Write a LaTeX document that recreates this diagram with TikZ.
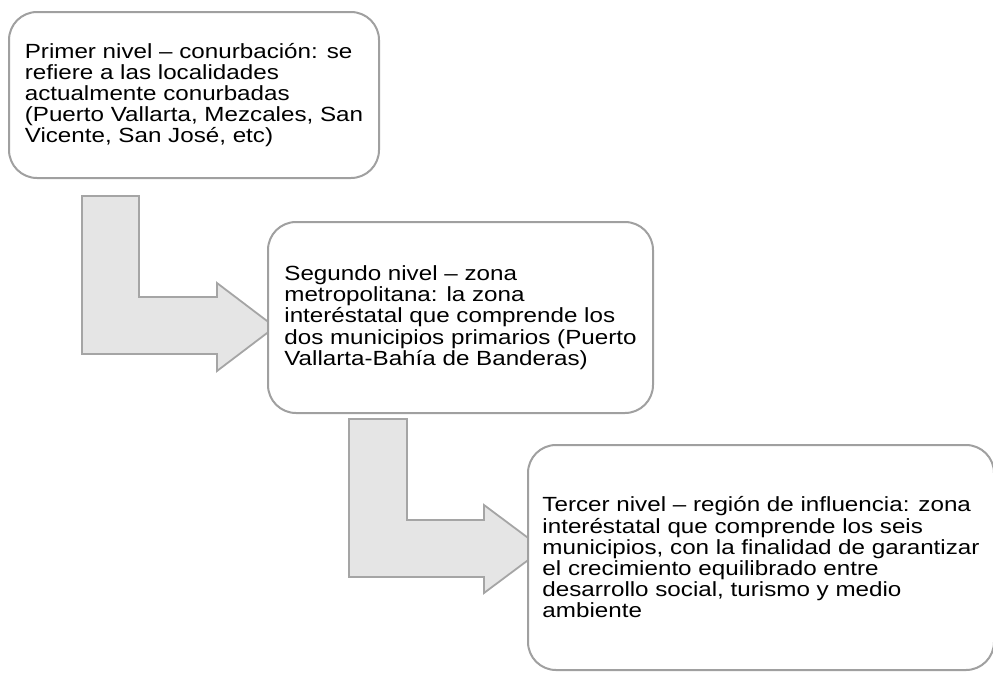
\documentclass[tikz,border=0pt]{standalone}
\usepackage{fontspec}
\setmainfont{Liberation Sans}[FakeStretch=1.18]
\definecolor{boxline}{RGB}{160,160,160}
\definecolor{arrfill}{RGB}{229,229,229}
\definecolor{arrline}{RGB}{165,165,165}
\newcommand{\levelfont}{\fontsize{20.5}{21.2}\selectfont\lineskiplimit=-100pt\relax\lineskip=0pt\relax}
\tikzset{
  levelbox/.style={draw=boxline, line width=2pt, fill=white, rounded corners=28pt,
    align=left, inner sep=0pt, font=\levelfont},
  bentarrow/.style={draw=arrline, line width=1.8pt, fill=arrfill, line join=miter}
}
\begin{document}
\begin{tikzpicture}[x=1pt,y=-1pt]
\useasboundingbox (0,0) rectangle (993,673);
\clip (0,0) rectangle (993,673);
\node[levelbox, minimum width=370pt, minimum height=166pt] (b1) at (194,95)
  {Primer nivel – conurbación: se\\refiere a las localidades\\actualmente conurbadas\\(Puerto Vallarta, Mezcales, San\\Vicente, San José, etc)};
\draw[bentarrow] (82,196) -- (139,196) -- (139,297) -- (217,297) -- (217,283) -- (275,327) -- (217,371) -- (217,354) -- (82,354) -- cycle;
\node[levelbox, minimum width=385pt, minimum height=191pt] (b2) at (460.5,317.5)
  {Segundo nivel – zona\\metropolitana: la zona\\interéstatal que comprende los\\dos municipios primarios (Puerto\\Vallarta-Bahía de Banderas)};
\draw[bentarrow] (349,419) -- (407,419) -- (407,520) -- (484,520) -- (484,505) -- (543,549) -- (484,593) -- (484,577) -- (349,577) -- cycle;
\node[levelbox, minimum width=466pt, minimum height=225pt] (b3) at (761,557.5)
  {Tercer nivel – región de influencia: zona\\interéstatal que comprende los seis\\municipios, con la finalidad de garantizar\\el crecimiento equilibrado entre\\desarrollo social, turismo y medio\\ambiente};
\end{tikzpicture}
\end{document}
